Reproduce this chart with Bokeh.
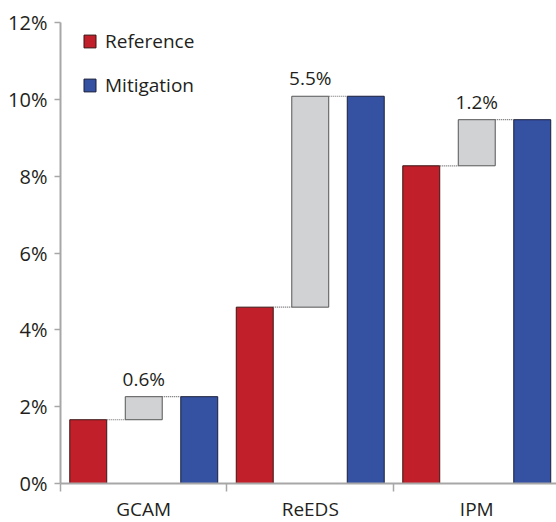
from bokeh.plotting import figure
from bokeh.models import (Range1d, FixedTicker, PrintfTickFormatter, ColumnDataSource,
                          Legend, LegendItem, LabelSet)
from bokeh.core.properties import value
from bokeh.embed import file_html
from bokeh.resources import INLINE

models = ["GCAM", "ReEDS", "IPM"]
reference = [1.66, 4.59, 8.27]
mitigation = [2.26, 10.08, 9.47]
change_labels = ["0.6%", "5.5%", "1.2%"]
y_ticks = [0, 2, 4, 6, 8, 10, 12]

RED = "#c1202a"
BLUE = "#3551a2"
GRAY = "#d1d2d4"
TEXT = "#231f20"
AXIS = "#a7a7a7"
FONT = "Open Sans"
FS = "19px"

n = len(models)
centers = [i + 0.5 for i in range(n)]
off = 1 / 3
bw = 0.222

p = figure(frame_width=496, frame_height=461, output_backend="svg", toolbar_location=None,
           x_range=Range1d(0, 2.979), y_range=Range1d(0, 12),
           min_border_left=60, min_border_top=22, min_border_right=0, min_border_bottom=0)
p.outline_line_color = None
p.xgrid.visible = False
p.ygrid.visible = False
p.background_fill_color = "white"

src = ColumnDataSource(dict(
    x=centers,
    xr=[c - off for c in centers],
    xb=[c + off for c in centers],
    ref=reference, mit=mitigation, lab=change_labels,
))

r_ref = p.vbar(x="xr", top="ref", bottom=0, width=bw, source=src,
               fill_color=RED, line_color="#3a1515", line_width=1)
p.vbar(x="x", top="mit", bottom="ref", width=bw, source=src,
       fill_color=GRAY, line_color="#555555", line_width=1)
r_mit = p.vbar(x="xb", top="mit", bottom=0, width=bw, source=src,
               fill_color=BLUE, line_color="#1a1f3a", line_width=1)

# dotted connectors
x0 = [c - off + bw / 2 for c in centers] + [c + bw / 2 for c in centers]
x1 = [c - bw / 2 for c in centers] + [c + off - bw / 2 for c in centers]
yy = reference + mitigation
p.segment(x0=x0, y0=yy, x1=x1, y1=yy, line_color="#666666", line_width=1.2,
          line_dash="1 1")

labels = LabelSet(x="x", y="mit", text="lab", source=src, text_align="center",
                  text_baseline="bottom", y_offset=5, text_font=value(FONT),
                  text_font_size=FS, text_color=TEXT)
p.add_layout(labels)

# axes
xa = p.xaxis[0]
xa.ticker = FixedTicker(ticks=centers, minor_ticks=[0, 1, 2])
xa.major_label_overrides = {c: m for c, m in zip(centers, models)}
xa.major_tick_line_color = None
xa.major_tick_out = 0
xa.minor_tick_in = 0
xa.minor_tick_out = 8
xa.minor_tick_line_color = AXIS
xa.minor_tick_line_width = 1.5
xa.axis_line_color = AXIS
xa.axis_line_width = 2
xa.major_label_standoff = 4
xa.major_label_text_font = FONT
xa.major_label_text_font_size = FS
xa.major_label_text_color = TEXT

ya = p.yaxis[0]
ya.ticker = FixedTicker(ticks=y_ticks)
ya.formatter = PrintfTickFormatter(format="%d%%")
ya.major_tick_in = 0
ya.major_tick_out = 6
ya.major_tick_line_color = AXIS
ya.major_tick_line_width = 1.5
ya.minor_tick_line_color = None
ya.axis_line_color = AXIS
ya.axis_line_width = 2
ya.major_label_standoff = 7
ya.major_label_text_font = FONT
ya.major_label_text_font_size = "20px"
ya.major_label_text_color = TEXT

legend = Legend(items=[LegendItem(label="Reference", renderers=[r_ref]),
                       LegendItem(label="Mitigation", renderers=[r_mit])],
                location=(22, 385), glyph_width=15, glyph_height=16,
                label_standoff=8, spacing=18, padding=0, margin=0,
                border_line_color=None, background_fill_alpha=0,
                label_text_font=FONT, label_text_font_size=FS,
                label_text_color=TEXT)
p.add_layout(legend)

open("out.html", "w").write(file_html(p, INLINE))
